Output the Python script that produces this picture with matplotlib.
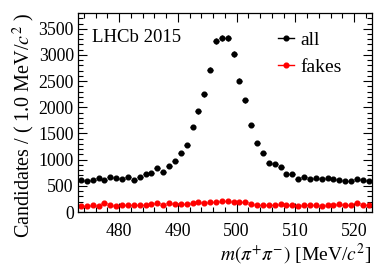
import numpy as np
import matplotlib
matplotlib.use("Agg")
import matplotlib.pyplot as plt
from matplotlib.ticker import MultipleLocator
from matplotlib.lines import Line2D

# bin centres, 1.0 MeV bins from 473 to 523
mass = np.arange(473.5, 523.0, 1.0)

all_counts = [615, 583, 602, 647, 615, 673, 641, 628, 667, 609,
              673, 724, 744, 833, 763, 878, 968, 1121, 1282, 1628,
              1923, 2250, 2717, 3263, 3327, 3327, 3013, 2506, 2135, 1660,
              1321, 1129, 936, 917, 859, 718, 718, 635, 660, 635,
              654, 635, 641, 622, 609, 590, 596, 622, 602, 596]
fake_counts = [115, 122, 135, 122, 167, 141, 122, 135, 135, 128,
               128, 135, 147, 167, 128, 167, 154, 160, 160, 179,
               192, 179, 192, 192, 212, 205, 192, 192, 192, 147,
               135, 135, 141, 141, 147, 135, 135, 122, 141, 128,
               135, 122, 128, 135, 147, 128, 128, 167, 128, 135]

plt.rcParams['font.family'] = ['Liberation Serif', 'DejaVu Serif']
plt.rcParams['mathtext.fontset'] = 'stix'

fig = plt.figure(figsize=(3.92, 2.66), dpi=100)
ax = fig.add_axes([0.199, 0.203, 0.749, 0.748])

for counts, col in [(all_counts, 'black'), (fake_counts, 'red')]:
    c = np.array(counts, dtype=float)
    ax.errorbar(mass, c, xerr=0.5, yerr=np.sqrt(c), fmt='o', color=col,
                markersize=3.4, elinewidth=0.8, capsize=0)

ax.set_xlim(473, 523)
ax.set_ylim(0, 3800)
ax.xaxis.set_major_locator(MultipleLocator(10))
ax.xaxis.set_minor_locator(MultipleLocator(2))
ax.yaxis.set_major_locator(MultipleLocator(500))
ax.yaxis.set_minor_locator(MultipleLocator(100))
ax.tick_params(which='both', direction='in', top=True, right=True, labelsize=12.8)
ax.tick_params(which='major', length=6.5, width=0.8)
ax.tick_params(which='minor', length=3.5, width=0.8)
ax.tick_params(axis='x', pad=8)
ax.tick_params(axis='y', pad=3)
for s in ax.spines.values():
    s.set_linewidth(0.9)

ax.set_xlabel(r'$m(\pi^{+}\pi^{-})$ [MeV/$c^2$]', fontsize=14, loc='right', labelpad=1)
ax.set_ylabel(r'Candidates / ( 1.0 MeV/$c^2$ )', fontsize=14.5, loc='top', labelpad=1)

ax.text(0.047, 0.855, 'LHCb 2015', transform=ax.transAxes, fontsize=13.5)

handles = [Line2D([0], [0], color='black', marker='o', markersize=3.4, lw=1),
           Line2D([0], [0], color='red', marker='o', markersize=3.4, lw=1)]
ax.legend(handles, ['all', 'fakes'], loc='upper left', bbox_to_anchor=(0.68, 0.91),
          frameon=False, fontsize=14, handlelength=0.85, handletextpad=0.3,
          labelspacing=0.5, borderaxespad=0.0, borderpad=0.0)

plt.savefig('out.png', dpi=100)
